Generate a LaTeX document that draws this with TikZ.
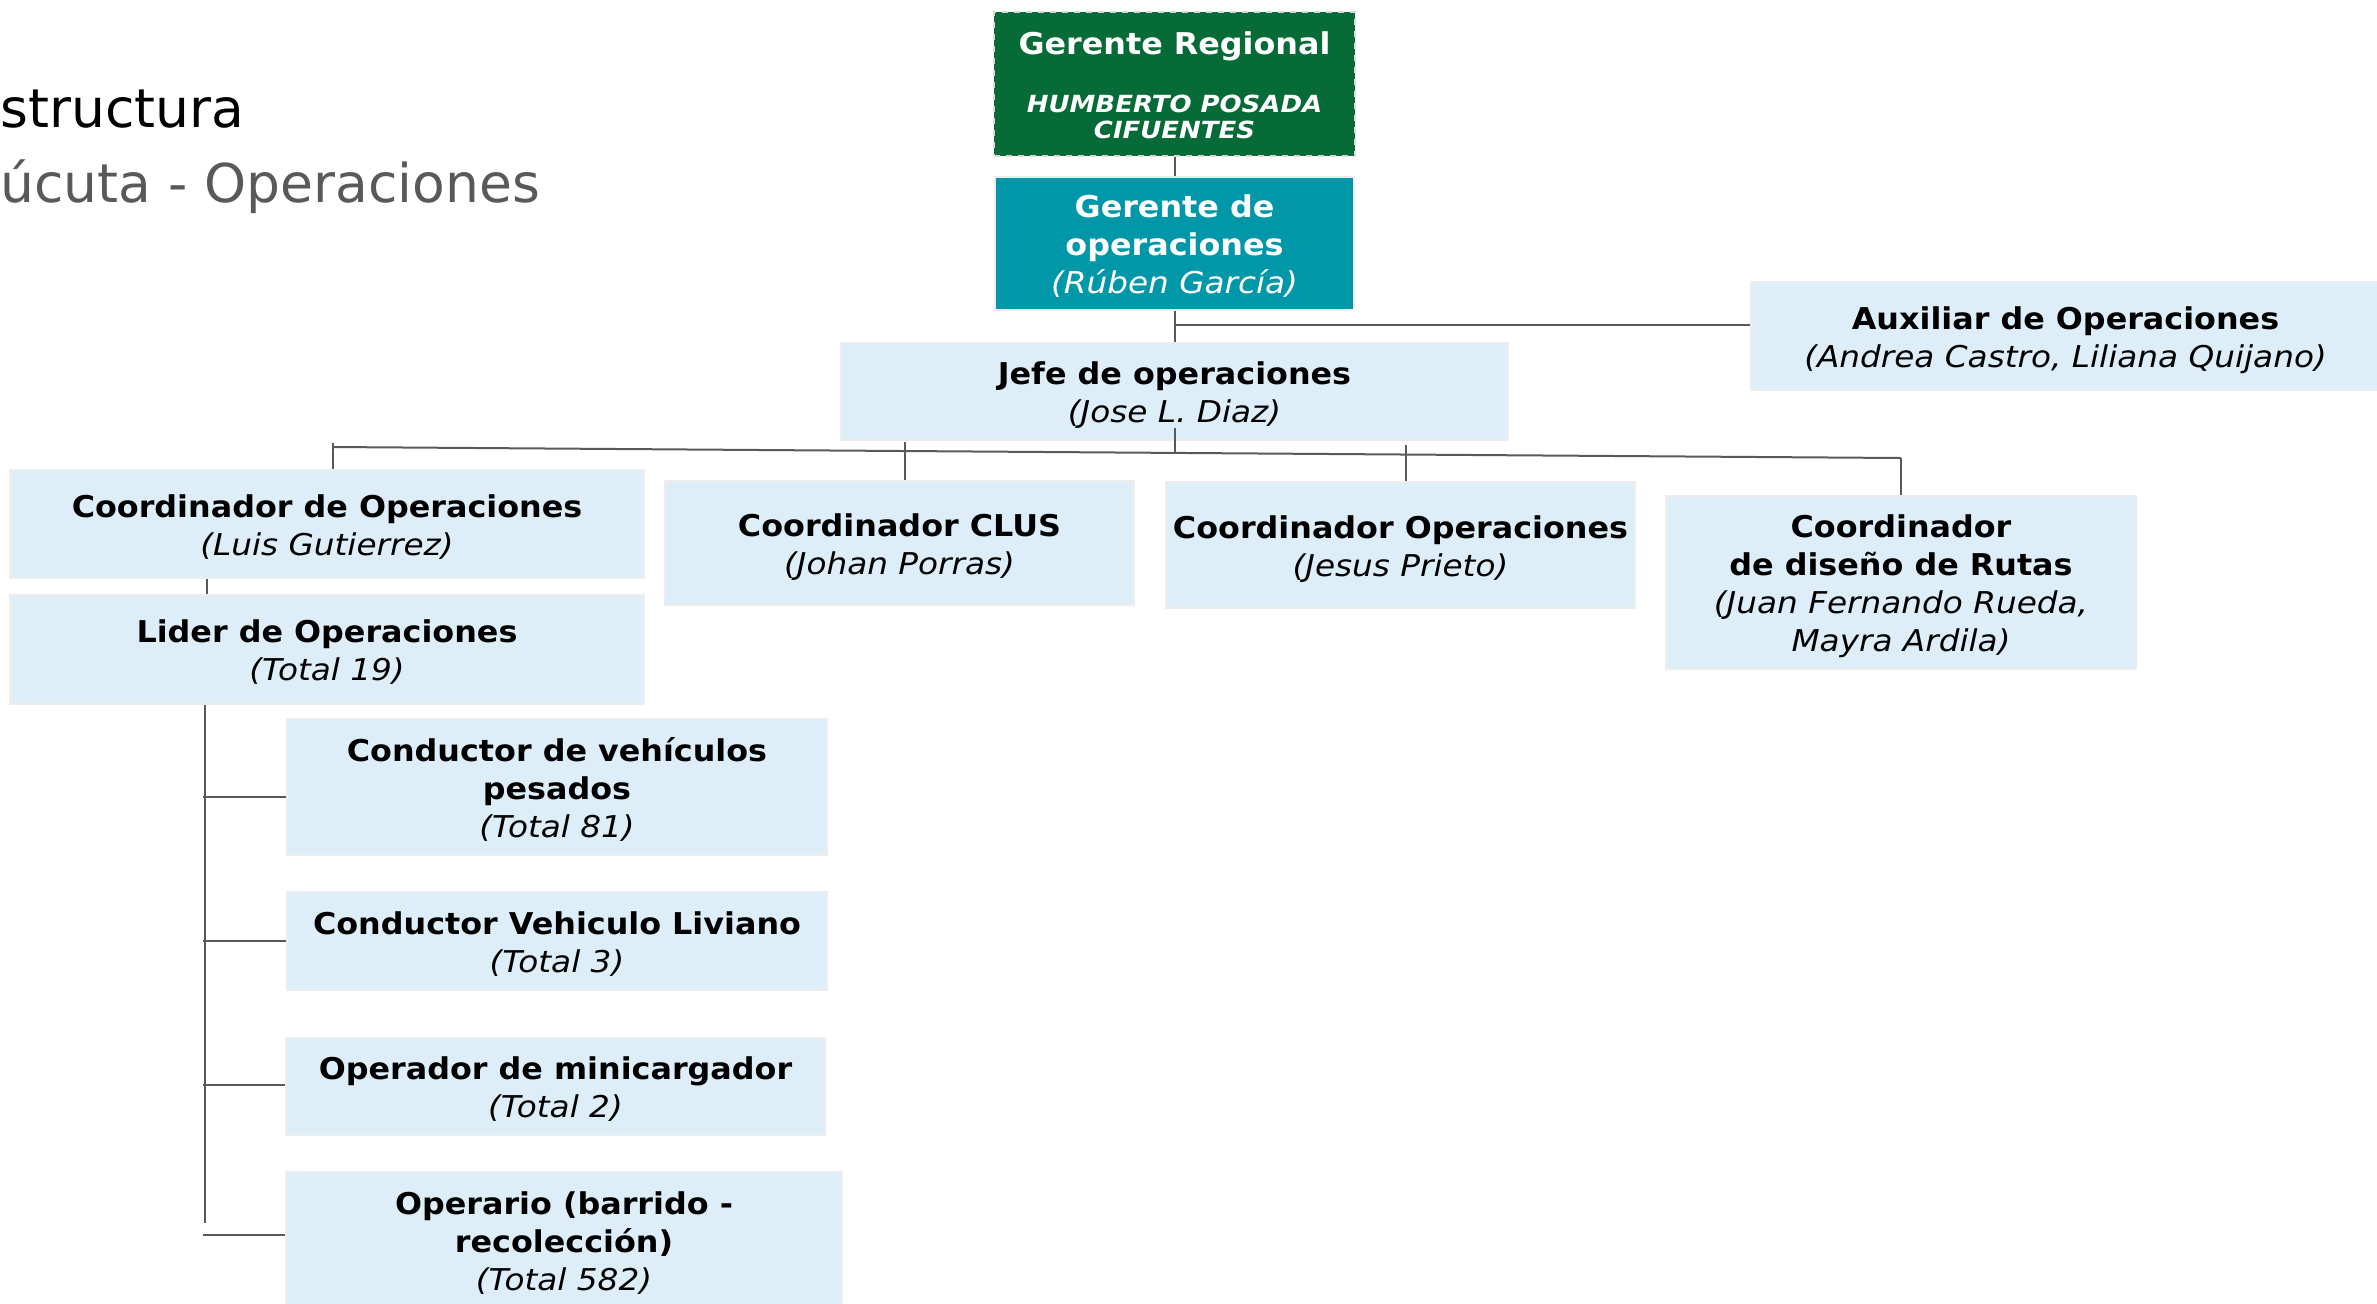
\documentclass[tikz,border=0pt]{standalone}
\usepackage{fontspec}
\setmainfont{DejaVu Sans}[BoldFeatures={FakeStretch=1.06}, ItalicFeatures={FakeStretch=1.09}, BoldItalicFeatures={FakeStretch=1.1}]
\definecolor{boxblue}{HTML}{DDEEF8}
\definecolor{gdark}{HTML}{076B38}
\definecolor{tealbox}{HTML}{0098A8}
\definecolor{linec}{HTML}{595959}
\definecolor{titlegray}{HTML}{595959}
\newcommand\tstr{\rule{0pt}{16pt}}
\newcommand\bstr{\rule[-3.6pt]{0pt}{3.6pt}}
\begin{document}
\begin{tikzpicture}[x=0.5pt,y=-0.5pt,
  orgbox/.style={draw=black!7, line width=1pt, fill=boxblue, inner sep=0pt, align=center, font=\fontsize{15}{19}\selectfont},
  conn/.style={draw=linec, line width=1pt},
  titletext/.style={anchor=base west, inner sep=0pt, font=\fontsize{26.75}{32}\selectfont}]
\useasboundingbox (0,0) rectangle (2377,1303);
\clip (0,0) rectangle (2377,1303);

% title
\node[titletext] (t1) at (0,127) {structura};
\node[titletext, text=titlegray] (t2) at (0,202) {úcuta - Operaciones};

% boxes
\node[orgbox, fill=gdark, draw=black!15, dashed, minimum width=180.5pt, minimum height=72pt, text=white] (gr) at (1174.5,84)
  {\tstr\textbf{Gerente Regional}\\[10pt]{\fontsize{11.8}{13}\selectfont\bfseries\itshape HUMBERTO POSADA}\\[-6pt]{\fontsize{11.8}{13}\selectfont\bfseries\itshape CIFUENTES}\bstr};
\node[orgbox, fill=tealbox, minimum width=179.5pt, minimum height=66.5pt, text=white] (go) at (1174.5,243.5)
  {\tstr\textbf{Gerente de}\\\textbf{operaciones}\\\textit{(Rúben García)}\bstr};
\node[orgbox, minimum width=333.5pt, minimum height=48.5pt] (jefe) at (1174.5,391.5)
  {\tstr\textbf{Jefe de operaciones}\\\textit{(Jose L. Diaz)}\bstr};
\node[orgbox, minimum width=314.5pt, minimum height=54pt] (aux) at (2065.5,336)
  {\tstr\textbf{Auxiliar de Operaciones}\\\textit{(Andrea Castro, Liliana Quijano)}\bstr};
\node[orgbox, minimum width=317pt, minimum height=54pt] (co) at (327,524)
  {\tstr\textbf{Coordinador de Operaciones}\\\textit{(Luis Gutierrez)}\bstr};
\node[orgbox, minimum width=317pt, minimum height=54.5pt] (lider) at (327,649.5)
  {\tstr\textbf{Lider de Operaciones}\\\textit{(Total 19)}\bstr};
\node[orgbox, minimum width=234.5pt, minimum height=62pt] (clus) at (899.5,543)
  {\tstr\textbf{Coordinador CLUS}\\\textit{(Johan Porras)}\bstr};
\node[orgbox, minimum width=234.5pt, minimum height=63pt] (co2) at (1400.5,545)
  {\tstr\textbf{Coordinador Operaciones}\\\textit{(Jesus Prieto)}\bstr};
\node[orgbox, minimum width=235pt, minimum height=86.5pt] (rutas) at (1901,582.5)
  {\tstr\textbf{Coordinador}\\\textbf{de diseño de Rutas}\\\textit{(Juan Fernando Rueda,}\\\textit{Mayra Ardila)}\bstr};
\node[orgbox, minimum width=270pt, minimum height=68pt] (cvp) at (557,787)
  {\tstr\textbf{Conductor de vehículos}\\\textbf{pesados}\\\textit{(Total 81)}\bstr};
\node[orgbox, minimum width=270pt, minimum height=49pt] (cvl) at (557,941)
  {\tstr\textbf{Conductor Vehiculo Liviano}\\\textit{(Total 3)}\bstr};
\node[orgbox, minimum width=269.5pt, minimum height=48.5pt] (om) at (555.5,1086.5)
  {\tstr\textbf{Operador de minicargador}\\\textit{(Total 2)}\bstr};
\node[orgbox, minimum width=278pt, minimum height=68pt] (op) at (564,1240)
  {\tstr\textbf{Operario (barrido -}\\\textbf{recolección)}\\\textit{(Total 582)}\bstr};

% connectors
\draw[conn] (gr) -- (go);
\draw[conn] (go) -- (jefe);
\coordinate (auxb) at (1175,325);
\draw[conn] (auxb) -- (auxb -| aux.west);
\coordinate (busL) at (333,447);
\coordinate (busR) at (1901,458);
\draw[conn] (busL) -- (busR);
\draw[conn] ([yshift=2pt]busL) -- (busL |- co.north);
\draw[conn] ([yshift=6.5pt]jefe.south) -- ++(0,25);
\draw[conn] ([xshift=2.5pt]clus.north) -- ++(0,-38);
\draw[conn] ([xshift=2.5pt]co2.north) -- ++(0,-36);
\draw[conn] (rutas.north) -- (busR);
\draw[conn] ([xshift=-60pt]co.south) -- ([xshift=-60pt]lider.north);
\coordinate (vtop) at ([xshift=-61pt]lider.south);
\draw[conn] (vtop) -- ++(0,518);
\coordinate (s1) at (203,797);
\coordinate (s2) at (203,941);
\coordinate (s3) at (203,1085);
\coordinate (s4) at (203,1235);
\draw[conn] (s1) -- (s1 -| cvp.west);
\draw[conn] (s2) -- (s2 -| cvl.west);
\draw[conn] (s3) -- (s3 -| om.west);
\draw[conn] (s4) -- (s4 -| op.west);
\end{tikzpicture}
\end{document}
